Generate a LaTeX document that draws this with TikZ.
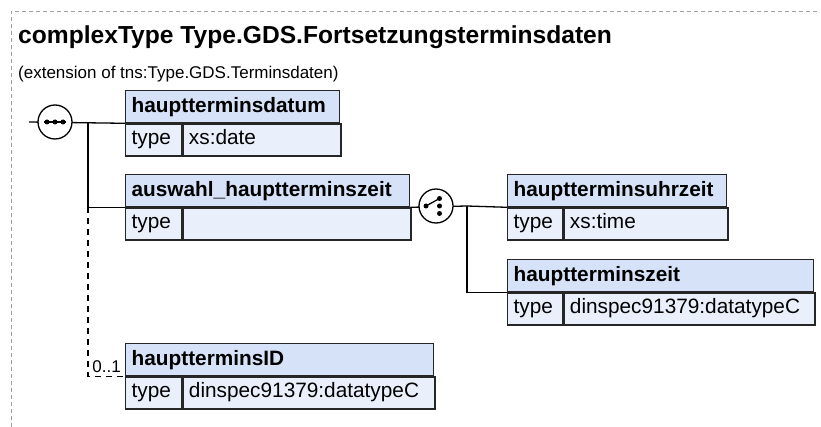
\documentclass[tikz,border=0pt]{standalone}
\usepackage{fontspec}
\setmainfont{Liberation Sans}
\usetikzlibrary{positioning}
\definecolor{hdrblue}{RGB}{214,226,247}
\definecolor{rowblue}{RGB}{234,240,251}
\definecolor{framegray}{RGB}{160,160,160}
\begin{document}
\begin{tikzpicture}[
    x=1pt, y=-1pt,
    hdr/.style={draw=black!85, line width=1.3pt, fill=hdrblue, anchor=north west,
      inner xsep=6pt, inner ysep=0pt, text height=22pt, text depth=10pt, align=left,
      font=\bfseries\fontsize{20.8}{24}\selectfont},
    cell/.style={draw=black!85, line width=1.3pt, fill=rowblue, anchor=north west,
      inner xsep=6pt, inner ysep=0pt, text height=21pt, text depth=11pt, align=left,
      font=\fontsize{20.8}{24}\selectfont},
    link/.style={line width=1.3pt},
    compositor/.style={circle, draw, line width=1.3pt, fill=white, minimum size=34pt, inner sep=0pt}
  ]
  \useasboundingbox (0,0) rectangle (821,427);
  \draw[framegray, line width=0.8pt, dash pattern=on 4pt off 3pt] (11,427) -- (11,11) -- (817,11);

  \node[anchor=base west, inner sep=0pt, font=\bfseries\fontsize{24.6}{28}\selectfont] (title) at (18,44)
    {complexType Type.GDS.Fortsetzungsterminsdaten};
  \node[anchor=base west, inner sep=0pt, font=\fontsize{17}{20}\selectfont] (subtitle) at (18,79)
    {(extension of tns:Type.GDS.Terminsdaten)};

  \node[hdr, text width=202pt] (datum) at (125,90) {hauptterminsdatum};
  \node[cell, text width=44pt] (datumtype) at (datum.south west) {type};
  \node[cell, text width=146pt] (datumval) at (datumtype.north east) {xs:date};

  \node[hdr, text width=272pt] (auswahl) at (125,174) {auswahl\_hauptterminszeit};
  \node[cell, text width=44pt] (auswahltype) at (auswahl.south west) {type};
  \node[cell, text width=216pt] (auswahlval) at (auswahltype.north east) {};

  \node[hdr, text width=207pt] (uhrzeit) at (507,174) {hauptterminsuhrzeit};
  \node[cell, text width=43pt] (uhrzeittype) at (uhrzeit.south west) {type};
  \node[cell, text width=152pt] (uhrzeitval) at (uhrzeittype.north east) {xs:time};

  \node[hdr, text width=294pt] (zeit) at (507,259) {hauptterminszeit};
  \node[cell, text width=43pt] (zeittype) at (zeit.south west) {type};
  \node[cell, text width=239pt] (zeitval) at (zeittype.north east) {dinspec91379:datatypeC};

  \node[hdr, text width=296pt] (termID) at (125,343) {hauptterminsID};
  \node[cell, text width=44pt] (termIDtype) at (termID.south west) {type};
  \node[cell, text width=240pt] (termIDval) at (termIDtype.north east) {dinspec91379:datatypeC};

  \coordinate (seqstub) at (29,122);
  \coordinate (seqbar) at (88,122);
  \coordinate (choicebar) at (467,206);

  \draw[link] (seqstub) -- (datum.south west);
  \draw[link] (seqbar) |- (auswahl.south west);
  \draw[link, dash pattern=on 6pt off 5pt] (auswahl.south west -| seqbar) |- (termID.south west);
  \node[anchor=base east, inner sep=0pt, font=\fontsize{17}{20}\selectfont] (occurs) at (121,372) {0..1};

  \node[compositor] (seq) at (55,122) {};
  \draw[line width=1.3pt] ([xshift=-11pt]seq.center) -- ([xshift=11pt]seq.center);
  \foreach \dx in {-8,0,8}
    \fill ([xshift=\dx pt]seq.center) circle (2.5pt);

  \draw[link] (auswahl.south east) -- (choicebar);
  \draw[link] (choicebar) -- (uhrzeit.south west);
  \draw[link] (choicebar) |- (zeit.south west);

  \node[compositor] (choice) at (436,206) {};
  \draw[line width=1.3pt] ([xshift=-10pt]choice.center) -- ([xshift=3.5pt,yshift=7.5pt]choice.center);
  \fill ([xshift=-10pt]choice.center) circle (2.5pt);
  \foreach \dy in {-7.5,0,7.5}
    \fill ([xshift=3.5pt,yshift=\dy pt]choice.center) circle (2.5pt);
\end{tikzpicture}
\end{document}
